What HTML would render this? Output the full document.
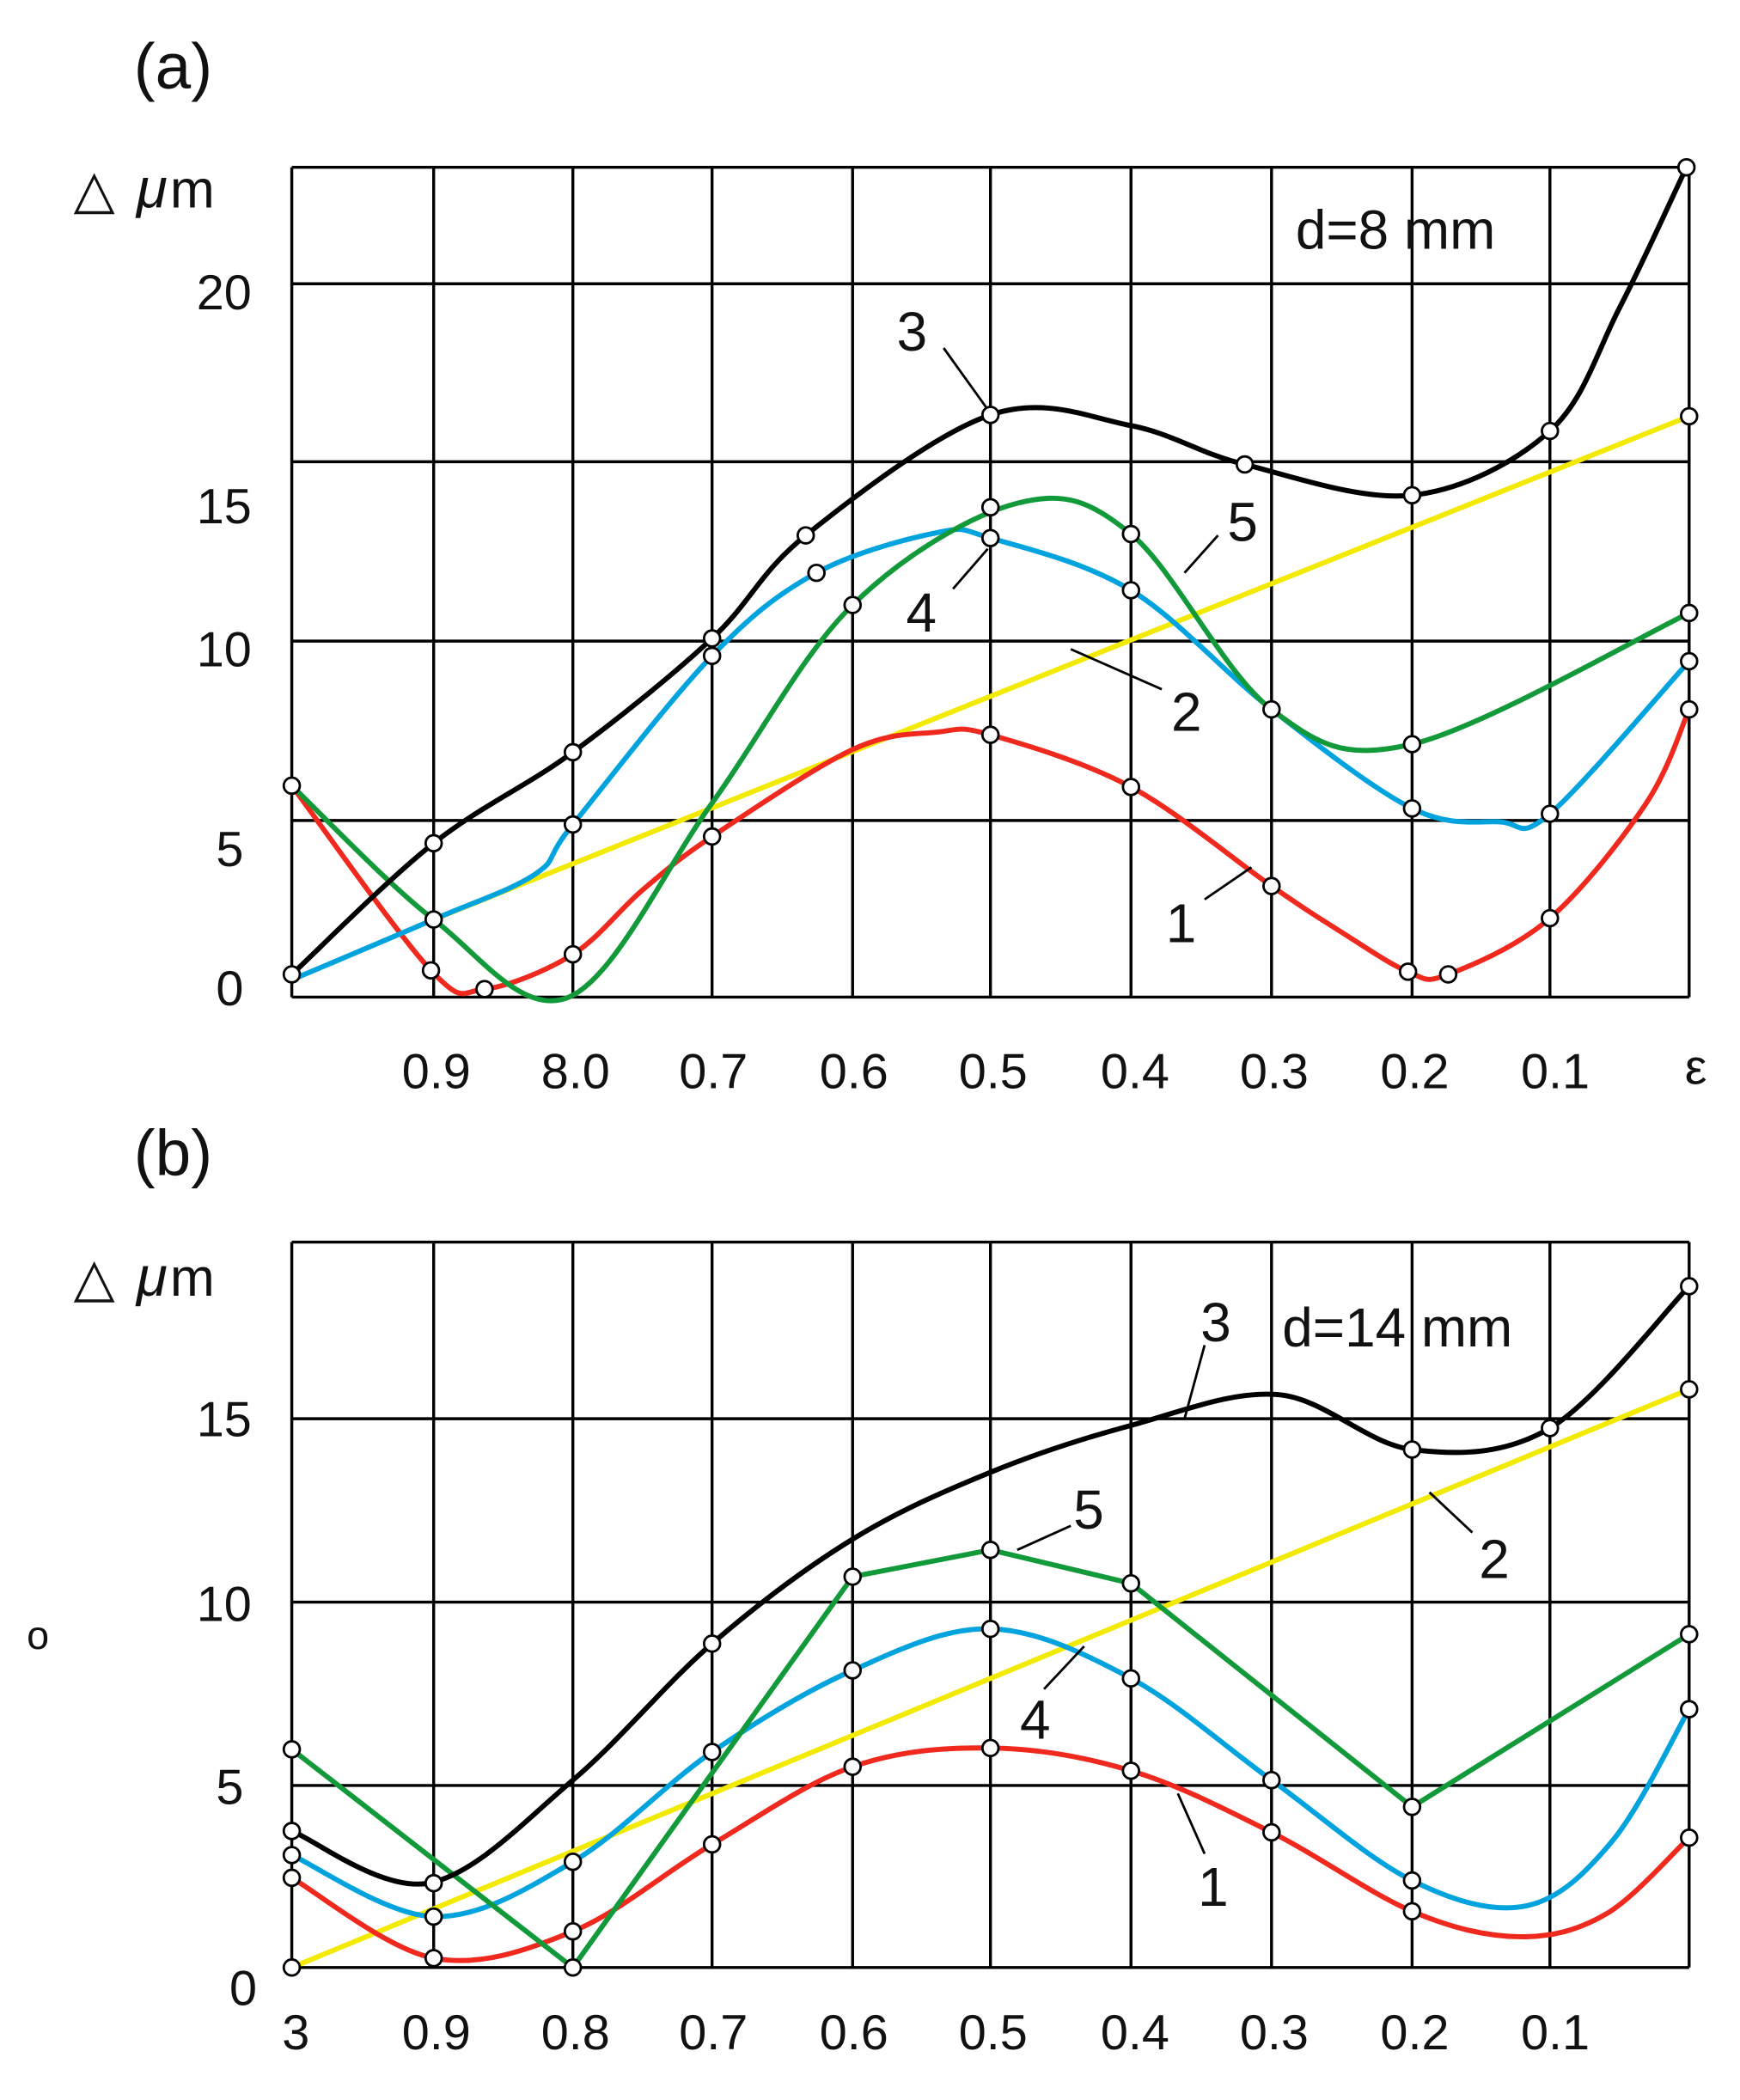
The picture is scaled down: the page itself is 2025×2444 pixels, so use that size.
<!DOCTYPE html>
<html><head><meta charset="utf-8"><style>
html,body{margin:0;padding:0;background:#fff}
svg{display:block}
text{font-family:"Liberation Sans",sans-serif;fill:#111}
</style></head><body>
<svg id="s" width="2025" height="2444" viewBox="0 0 1300 1569" xmlns="http://www.w3.org/2000/svg">
<rect width="1300" height="1569" fill="#fff"/>
<g id="grid" stroke="#000" stroke-width="2.2" fill="none"></g>
<g id="curves" fill="none" stroke-width="3.8" stroke-linejoin="round" stroke-linecap="round"></g>
<g id="lead" stroke="#000" stroke-width="1.8"></g>
<g id="dots" fill="#fff" stroke="#000" stroke-width="1.8"></g>
<g font-size="37">
<text x="100" y="66" font-size="48">(a)</text>
<text x="100" y="878" font-size="48">(b)</text>
<text x="55" y="155" font-size="40">△</text><text x="102" y="155" font-size="42" font-style="italic">μ</text><text x="127" y="155" font-size="40">m</text>
<text x="55" y="968" font-size="40">△</text><text x="102" y="968" font-size="42" font-style="italic">μ</text><text x="127" y="968" font-size="40">m</text>
<g text-anchor="end">
<text x="188" y="231">20</text><text x="188" y="391">15</text><text x="188" y="498">10</text><text x="182" y="647">5</text><text x="182" y="751">0</text>
<text x="188" y="1073">15</text><text x="188" y="1211">10</text><text x="182" y="1348">5</text><text x="192" y="1498">0</text>
</g>
<g text-anchor="middle">
<text x="326" y="813">0.9</text><text x="430" y="813">8.0</text><text x="533" y="813">0.7</text><text x="638" y="813">0.6</text><text x="742" y="813">0.5</text><text x="848" y="813">0.4</text><text x="952" y="813">0.3</text><text x="1057" y="813">0.2</text><text x="1162" y="813">0.1</text><text x="1267" y="810">ε</text>
<text x="221" y="1531">3</text><text x="326" y="1531">0.9</text><text x="430" y="1531">0.8</text><text x="533" y="1531">0.7</text><text x="638" y="1531">0.6</text><text x="742" y="1531">0.5</text><text x="848" y="1531">0.4</text><text x="952" y="1531">0.3</text><text x="1057" y="1531">0.2</text><text x="1162" y="1531">0.1</text>
</g>
<text x="968" y="186" font-size="41">d=8 mm</text>
<text x="958" y="1006" font-size="41">d=14 mm</text>
<text x="20" y="1232" font-size="30">o</text>
<text x="670" y="262" font-size="41">3</text>
<text x="917" y="404" font-size="41">5</text>
<text x="677" y="472" font-size="41">4</text>
<text x="875" y="546" font-size="41">2</text>
<text x="871" y="704" font-size="41">1</text>
<text x="897" y="1002" font-size="41">3</text>
<text x="802" y="1142" font-size="41">5</text>
<text x="1105" y="1179" font-size="41">2</text>
<text x="762" y="1299" font-size="41">4</text>
<text x="895" y="1424" font-size="41">1</text>
</g>
</svg>
<script>
const NS="http://www.w3.org/2000/svg";
function el(p,t,a){const e=document.createElementNS(NS,t);for(const k in a)e.setAttribute(k,a[k]);document.getElementById(p).appendChild(e);return e;}
const xs=[218,324,428,532,637,740,845,950,1055,1158,1262];
for(const x of xs) el("grid","line",{x1:x,y1:125,x2:x,y2:745});
for(const y of [125,212,345,479,613,745]) el("grid","line",{x1:218,y1:y,x2:1262,y2:y});
for(const x of xs) el("grid","line",{x1:x,y1:928,x2:x,y2:1470});
for(const y of [928,1060,1197,1334,1470]) el("grid","line",{x1:218,y1:y,x2:1262,y2:y});
function cr(p){let d="M"+p[0][0]+","+p[0][1];for(let i=0;i<p.length-1;i++){const p0=p[i-1]||p[i],p1=p[i],p2=p[i+1],p3=p[i+2]||p2;
d+=" C"+(p1[0]+(p2[0]-p0[0])/6)+","+(p1[1]+(p2[1]-p0[1])/6)+" "+(p2[0]-(p3[0]-p1[0])/6)+","+(p2[1]-(p3[1]-p1[1])/6)+" "+p2[0]+","+p2[1];}return d;}
function curve(p,c,smooth){el("curves","path",{d:smooth?cr(p):"M"+p.map(q=>q.join(",")).join(" L"),stroke:c});}
function dots(a){for(const q of a)el("dots","circle",{cx:q[0],cy:q[1],r:6});}
const Y="#f2ea00",R="#f0291f",B="#00a3dd",G="#129a3a",K="#000";
// chart a
curve([[324,687],[1262,311]],Y,0);
curve([[218,587],[322,725],[362,739],[428,713],[480,665],[532,625],[637,560],[700,547],[740,549],[845,588],[950,662],[1000,695],[1052,726],[1082,728],[1158,686],[1230,600],[1262,530]],R,1);
curve([[218,732],[324,687],[400,653],[428,616],[532,490],[610,428],[700,398],[740,402],[845,441],[950,530],[1055,604],[1120,614],[1158,608],[1262,494]],B,1);
curve([[218,587],[324,687],[425,745],[532,600],[637,452],[760,376],[845,399],[950,530],[1055,556],[1262,458]],G,1);
curve([[218,728],[324,630],[428,562],[532,477],[602,400],[740,310],[845,318],[930,347],[1055,370],[1158,322],[1210,230],[1260,125]],K,1);
dots([[218,728],[324,630],[428,562],[532,477],[602,400],[740,310],[930,347],[1055,370],[1158,322],[1260,125],[1262,311],
[218,587],[637,452],[740,379],[845,399],[950,530],[1055,556],[1262,458],
[324,687],[428,616],[532,490],[610,428],[740,402],[845,441],[1055,604],[1158,608],[1262,494],
[322,725],[362,739],[428,713],[532,625],[740,549],[845,588],[950,662],[1052,726],[1082,728],[1158,686],[1262,530]]);
// chart b
curve([[218,1470],[1262,1038]],Y,0);
curve([[218,1403],[324,1463],[428,1443],[532,1378],[637,1320],[740,1306],[845,1323],[950,1369],[1055,1428],[1135,1447],[1200,1430],[1262,1373]],R,1);
curve([[218,1386],[324,1432],[428,1391],[532,1309],[637,1248],[740,1217],[845,1254],[950,1330],[1055,1405],[1140,1424],[1205,1375],[1262,1277]],B,1);
curve([[218,1307],[428,1470],[637,1178],[740,1158],[845,1183],[1055,1350],[1262,1221]],G,0);
curve([[218,1368],[320,1407],[428,1330],[532,1228],[637,1150],[740,1100],[845,1065],[955,1042],[1055,1083],[1158,1067],[1262,961]],K,1);
dots([[218,1368],[324,1407],[532,1228],[1055,1083],[1158,1067],[1262,961],[1262,1038],[218,1470],
[218,1307],[428,1470],[637,1178],[740,1158],[845,1183],[1055,1350],[1262,1221],
[218,1386],[324,1432],[428,1391],[532,1309],[637,1248],[740,1217],[845,1254],[950,1330],[1055,1405],[1262,1277],
[218,1403],[324,1463],[428,1443],[532,1378],[637,1320],[740,1306],[845,1323],[950,1369],[1055,1428],[1262,1373]]);
for(const l of [[705,260,738,306],[910,400,885,428],[712,440,738,410],[868,515,800,485],[900,672,935,648],
[900,1005,885,1060],[800,1140,760,1158],[1100,1145,1068,1115],[780,1262,810,1230],[900,1385,880,1340]])
el("lead","line",{x1:l[0],y1:l[1],x2:l[2],y2:l[3]});
</script>
</body></html>
